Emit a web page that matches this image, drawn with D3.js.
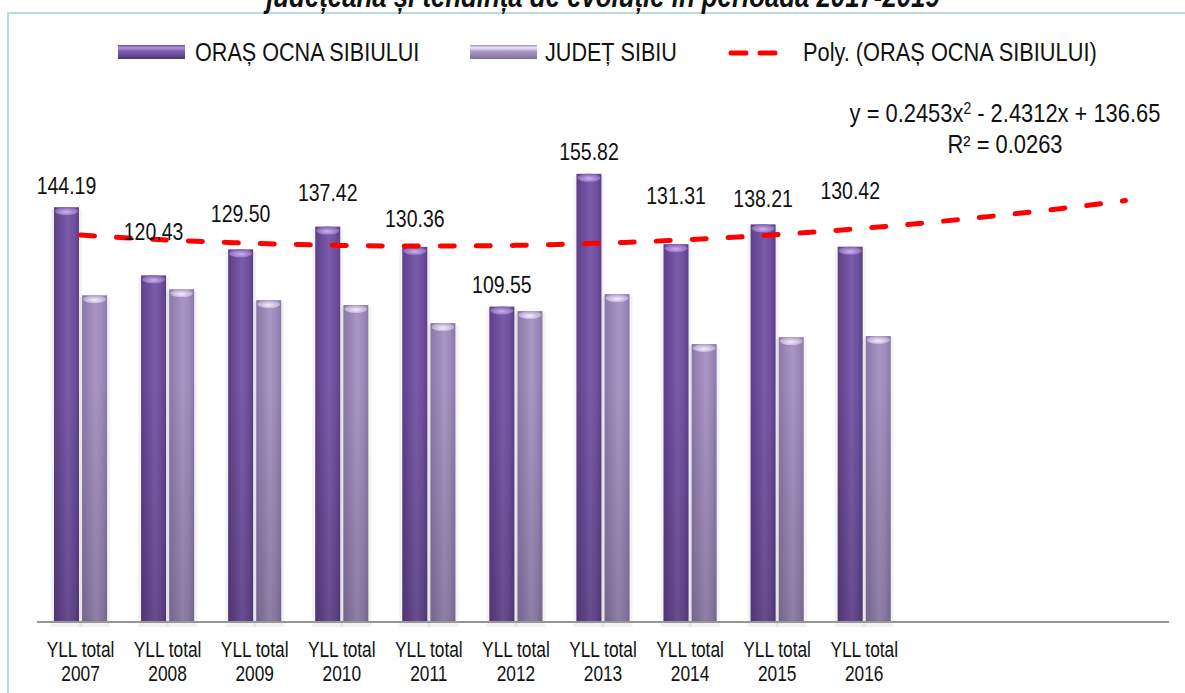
<!DOCTYPE html>
<html>
<head>
<meta charset="utf-8">
<script src="https://cdn.jsdelivr.net/npm/d3@7"></script>
<style>
  body { margin: 0; background: #fff; }
  svg { display: block; font-family: "Liberation Sans", Arial, sans-serif; }
</style>
</head>
<body>
<svg id="chart" width="1185" height="693"></svg>
<script>
// Data
var categories = ["YLL total 2007", "YLL total 2008", "YLL total 2009", "YLL total 2010", "YLL total 2011",
                  "YLL total 2012", "YLL total 2013", "YLL total 2014", "YLL total 2015", "YLL total 2016"];
var ocna = [144.19, 120.43, 129.50, 137.42, 130.36, 109.55, 155.82, 131.31, 138.21, 130.42];
var judet = [113.5, 115.6, 111.8, 110.1, 103.8, 108.0, 113.9, 96.5, 98.9, 99.3];
var seriesNames = ["ORAȘ OCNA SIBIULUI", "JUDEȚ SIBIU", "Poly. (ORAȘ OCNA SIBIULUI)"];
// polynomial trend (order 2) as printed on the chart, forecast 3 periods forward
var trendCoef = [0.2453, -2.4312, 136.65];
var trendR2 = "0.0263";
var forecastPeriods = 3;
var titleText = "județeană și tendința de evoluție în perioada 2017-2019";

var svg = d3.select("#chart");
var defs = svg.append("defs");

// Layout
var plot = {left: 37, right: 1169, top: 47, bottom: 621};
// hand-placed label lifts, as the labels were moved in the original
var labelLift = [21, 43, 35, 34, 28, 22, 22, 48, 25, 56];

var slots = d3.range(categories.length + forecastPeriods);
var x = d3.scaleBand()
  .domain(slots)
  .range([plot.left, plot.right])
  .paddingInner(0.39)
  .paddingOuter(0.195);
var xInner = d3.scaleBand()
  .domain([0, 1])
  .range([0, x.bandwidth()])
  .paddingInner(0.11);
var y = d3.scaleLinear().domain([0, 200]).range([plot.bottom, plot.top]);

// stretched text helper (the source text is a bit tall and narrow)
function addText(g, px, py, str, size, anchor, stretch) {
  return g.append("text")
    .attr("transform", `translate(${px},${py}) scale(1,${stretch || 1.2})`)
    .attr("font-size", size)
    .attr("text-anchor", anchor || "middle")
    .attr("fill", "#111")
    .text(str);
}

// Gradients for the cylinder bars
function cylGradient(id, edge, mid, light) {
  var g = defs.append("linearGradient").attr("id", id)
    .attr("x1", 0).attr("x2", 1).attr("y1", 0).attr("y2", 0);
  g.append("stop").attr("offset", "0%").attr("stop-color", edge);
  g.append("stop").attr("offset", "35%").attr("stop-color", mid);
  g.append("stop").attr("offset", "55%").attr("stop-color", light);
  g.append("stop").attr("offset", "80%").attr("stop-color", mid);
  g.append("stop").attr("offset", "100%").attr("stop-color", edge);
}
cylGradient("gOcna", "#5c3f88", "#6f509e", "#7b5caa");
cylGradient("gJudet", "#8a78a8", "#9c8bba", "#a897c4");

function capGradient(id, c1, c2) {
  var g = defs.append("radialGradient").attr("id", id)
    .attr("cx", "50%").attr("cy", "60%").attr("r", "60%");
  g.append("stop").attr("offset", "0%").attr("stop-color", c1);
  g.append("stop").attr("offset", "100%").attr("stop-color", c2);
}
capGradient("cOcna", "#c9b2ee", "#7f5fae");
capGradient("cJudet", "#f4eefc", "#ab9bc7");

var shade = defs.append("linearGradient").attr("id", "shade")
  .attr("gradientUnits", "userSpaceOnUse")
  .attr("x1", 0).attr("x2", 0).attr("y1", 380).attr("y2", plot.bottom);
shade.append("stop").attr("offset", "0%").attr("stop-color", "#000").attr("stop-opacity", 0);
shade.append("stop").attr("offset", "100%").attr("stop-color", "#000").attr("stop-opacity", 0.16);

var legOcna = defs.append("linearGradient").attr("id", "lOcna")
  .attr("x1", 0).attr("x2", 0).attr("y1", 0).attr("y2", 1);
legOcna.append("stop").attr("offset", "0%").attr("stop-color", "#6a4b98");
legOcna.append("stop").attr("offset", "20%").attr("stop-color", "#b195e0");
legOcna.append("stop").attr("offset", "45%").attr("stop-color", "#7c5cad");
legOcna.append("stop").attr("offset", "100%").attr("stop-color", "#4e3676");
var legJudet = defs.append("linearGradient").attr("id", "lJudet")
  .attr("x1", 0).attr("x2", 0).attr("y1", 0).attr("y2", 1);
legJudet.append("stop").attr("offset", "0%").attr("stop-color", "#9f8fbc");
legJudet.append("stop").attr("offset", "20%").attr("stop-color", "#eee4fb");
legJudet.append("stop").attr("offset", "45%").attr("stop-color", "#aa9ac6");
legJudet.append("stop").attr("offset", "100%").attr("stop-color", "#7f6f99");

// Frame and title (cut off at the top, as in the source)
svg.append("rect")
  .attr("x", 8).attr("y", 13).attr("width", 1200).attr("height", 700)
  .attr("fill", "none").attr("stroke", "#b4dbe6").attr("stroke-width", 2);

svg.append("text")
  .attr("transform", "translate(603,7) scale(1,1.2)")
  .attr("text-anchor", "middle")
  .attr("font-size", 25.8)
  .attr("font-weight", "bold")
  .attr("font-style", "italic")
  .attr("fill", "#111")
  .text(titleText);

// Bars
var series = [
  {values: ocna, fill: "url(#gOcna)", cap: "url(#cOcna)"},
  {values: judet, fill: "url(#gJudet)", cap: "url(#cJudet)"}
];
var capH = 8;
var bw = xInner.bandwidth();
var barsG = svg.append("g");
series.forEach(function(s, si) {
  var g = barsG.selectAll(null)
    .data(s.values)
    .enter().append("g")
    .attr("transform", (d, i) => `translate(${x(i) + xInner(si)},0)`);
  // soft halo
  g.append("rect")
    .attr("x", -3).attr("width", bw + 6)
    .attr("y", d => y(d) + 2)
    .attr("height", d => plot.bottom - y(d) + 4)
    .attr("fill", "#000").attr("opacity", 0.05);
  g.append("rect")
    .attr("x", 0).attr("width", bw)
    .attr("y", d => y(d))
    .attr("height", d => plot.bottom - y(d))
    .attr("fill", s.fill);
  g.append("rect")
    .attr("x", 0).attr("width", bw)
    .attr("y", d => y(d))
    .attr("height", d => plot.bottom - y(d))
    .attr("fill", "url(#shade)");
  g.append("ellipse")
    .attr("cx", bw / 2).attr("rx", bw / 2 - 1)
    .attr("cy", d => y(d) + capH / 2).attr("ry", capH / 2)
    .attr("fill", s.cap);
});

// Axis baseline
svg.append("line")
  .attr("x1", plot.left).attr("x2", plot.right)
  .attr("y1", plot.bottom + 1).attr("y2", plot.bottom + 1)
  .attr("stroke", "#969696").attr("stroke-width", 2);

// Category labels (two lines)
var tickG = svg.append("g");
categories.forEach(function(c, i) {
  var cx = x(i) + x.bandwidth() / 2;
  var cut = c.lastIndexOf(" ");
  addText(tickG, cx, 657, c.slice(0, cut), 17.3, "middle", 1.25);
  addText(tickG, cx, 681, c.slice(cut + 1), 17.3, "middle", 1.25);
});

// Trendline
function trend(t) { return trendCoef[0] * t * t + trendCoef[1] * t + trendCoef[2]; }
var tx = d3.scaleLinear()
  .domain([1, slots.length])
  .range([x(0) + x.bandwidth() / 2, x(slots.length - 1) + x.bandwidth() / 2]);
var tPts = d3.range(1, slots.length + 0.001, 0.25);
svg.append("path")
  .datum(tPts)
  .attr("d", d3.line().x(t => tx(t)).y(t => y(trend(t))))
  .attr("fill", "none")
  .attr("stroke", "#ff0000")
  .attr("stroke-width", 5)
  .attr("stroke-linecap", "round")
  .attr("stroke-dasharray", "14,22");

// Data labels, centred over the first series bar
var labelG = svg.append("g");
ocna.forEach(function(v, i) {
  addText(labelG, x(i) + xInner(0) + bw / 2, y(v) - labelLift[i] + 8, v.toFixed(2), 19.5, "middle", 1.2);
});

// Trend equation
var eq = svg.append("text")
  .attr("transform", "translate(1005,122) scale(1,1.2)")
  .attr("text-anchor", "middle")
  .attr("font-size", 21.9)
  .attr("fill", "#111");
eq.append("tspan").text("y = " + trendCoef[0] + "x");
eq.append("tspan").attr("font-size", 14).attr("dy", -7).text("2");
eq.append("tspan").attr("dy", 7).text(" - " + Math.abs(trendCoef[1]) + "x + " + trendCoef[2]);
addText(svg, 1005, 153, "R² = " + trendR2, 21.9, "middle", 1.2);

// Legend
var leg = svg.append("g");
leg.append("rect").attr("x", 118).attr("y", 45).attr("width", 67).attr("height", 14)
  .attr("fill", "url(#lOcna)");
addText(leg, 195, 61, seriesNames[0], 21.6, "start", 1.2);
leg.append("rect").attr("x", 470).attr("y", 45).attr("width", 67).attr("height", 14)
  .attr("fill", "url(#lJudet)");
addText(leg, 545, 61, seriesNames[1], 21.6, "start", 1.2);
leg.append("line").attr("x1", 731).attr("x2", 778).attr("y1", 53).attr("y2", 53)
  .attr("stroke", "#ff0000").attr("stroke-width", 5)
  .attr("stroke-linecap", "round").attr("stroke-dasharray", "15,14");
addText(leg, 803, 61, seriesNames[2], 21.8, "start", 1.2);
</script>
</body>
</html>
